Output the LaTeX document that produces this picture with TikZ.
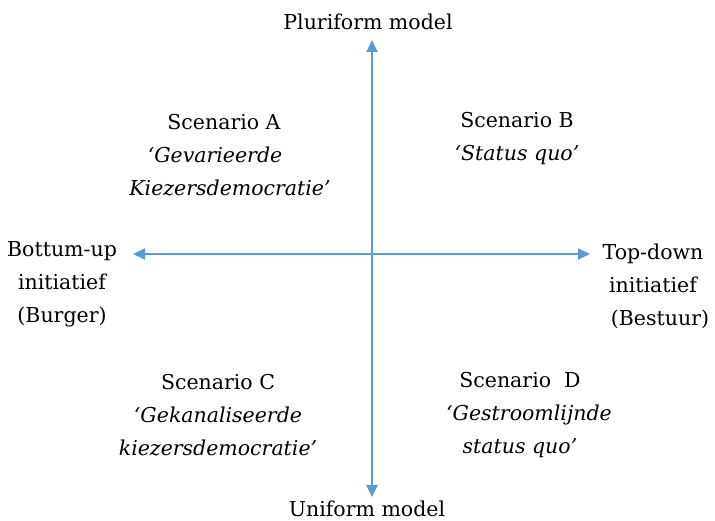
\documentclass[tikz,border=0pt]{standalone}
\usepackage{fontspec}
\setmainfont{DejaVu Serif}
\usetikzlibrary{arrows.meta}
\definecolor{axisblue}{HTML}{5B9BD5}
\begin{document}
\begin{tikzpicture}[x=1pt,y=-1pt,
  lbl/.style={inner sep=0pt, align=center, font=\fontsize{20.5}{33}\selectfont, text=black},
  axis/.style={draw=axisblue, line width=1.8pt, {Triangle[length=12pt,width=11pt]}-{Triangle[length=12pt,width=11pt]}}]
\useasboundingbox (0,0) rectangle (715,521);
\coordinate (top) at (372,40);
\coordinate (bot) at (372,497);
\coordinate (lft) at (133,254);
\coordinate (rgt) at (590,254);
\draw[axis] (bot) -- (top);
\draw[axis] (lft) -- (rgt);
\node[lbl] (plur) at (368,22) {Pluriform model};
\node[lbl] (unif) at (367,509) {Uniform model};
\node[lbl] (bu) at (62,284) {Bottum-up\\initiatief\\(Burger)};
\node[lbl] (td) at (653,286) {Top-down\\initiatief\\\hspace*{14pt}(Bestuur)};
\node[lbl] (sa) at (224,155) {Scenario A\\\hspace*{-18pt}\textit{‘Gevarieerde}\\\hspace*{12pt}\textit{Kiezersdemocratie’}};
\node[lbl] (sb) at (517,139) {Scenario B\\\textit{‘Status quo’}};
\node[lbl] (sc) at (218,415) {Scenario C\\\textit{‘Gekanaliseerde}\\\textit{kiezersdemocratie’}};
\node[lbl] (sd) at (520,415) {Scenario\ \ D\\\hspace*{18pt}\textit{‘Gestroomlijnde}\\\textit{status quo’}};
\end{tikzpicture}
\end{document}
